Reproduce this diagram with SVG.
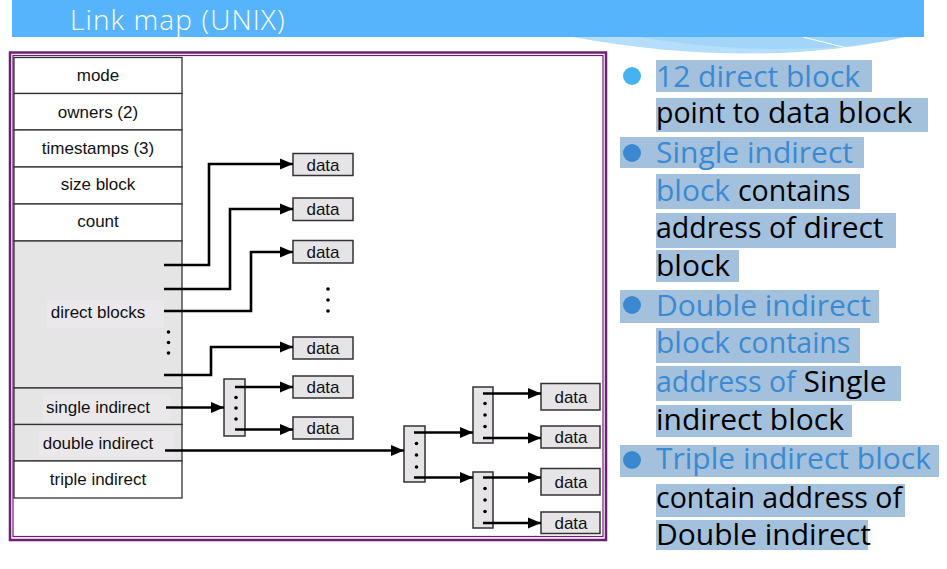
<svg xmlns="http://www.w3.org/2000/svg" width="947" height="569" viewBox="0 0 947 569">
<style>
.cell{fill:#ffffff;stroke:#333;stroke-width:1.3}
.gcell{fill:#e6e5e6;stroke:#333;stroke-width:1.3}
.lab{font-family:"Liberation Sans",Arial,sans-serif;font-size:17px;fill:#111;text-anchor:middle}
.box{fill:#e6e4e6;stroke:#333;stroke-width:1.5}
.conn{fill:none;stroke:#000;stroke-width:2.6}
.hl{fill:#a3c1dc}
.t{font-family:"Open Sans","Noto Sans",sans-serif;font-size:30px}
.b{fill:#3a8ad3}
.k{fill:#000}
.s{font-size:28.5px}
</style>
<defs>
<marker id="ah" markerUnits="userSpaceOnUse" markerWidth="14" markerHeight="12" refX="13" refY="6" orient="auto">
<path d="M0,0.5 L13,6 L0,11.5 Z" fill="#000"/>
</marker>
</defs>
<g id="header">
<path d="M573 37 C 680 57, 800 61, 905 37 Z" fill="#b4defb"/>
<path d="M640 37 C 720 51, 820 55, 905 37 Z" fill="#a2d5f9"/>
<path d="M803 37 L851 49" stroke="#fff" stroke-width="1"/>
<rect x="12" y="0" width="912" height="37" fill="#55b4fb"/>
<text x="70" y="30" font-family="Open Sans,Noto Sans,sans-serif" font-weight="300" font-size="28" letter-spacing="1.1" fill="#fff">Link map (UNIX)</text>
</g>
<g id="frame">
<rect x="10" y="52.5" width="596" height="487.5" fill="#fff" stroke="#6d1f73" stroke-width="2.5"/>
<rect x="13" y="55.5" width="590" height="481" fill="none" stroke="#6d1f73" stroke-width="1.2"/>
</g>
<g id="inode">
<rect class="cell" x="14" y="57.5" width="168" height="36"/>
<rect class="cell" x="14" y="93.5" width="168" height="36.5"/>
<rect class="cell" x="14" y="130" width="168" height="37"/>
<rect class="cell" x="14" y="167" width="168" height="37"/>
<rect class="cell" x="14" y="204" width="168" height="37"/>
<rect class="gcell" x="14" y="241" width="168" height="147"/>
<rect class="gcell" x="14" y="388" width="168" height="36.5"/>
<rect class="gcell" x="14" y="424.5" width="168" height="36.5"/>
<rect class="cell" x="14" y="461" width="168" height="37"/>
<rect x="47" y="300" width="117" height="28" fill="#ebe8eb"/>
<rect x="43" y="395" width="127" height="26" fill="#ebe8eb"/>
<rect x="39" y="431" width="135" height="26" fill="#ebe8eb"/>
<text class="lab" x="98" y="81">mode</text>
<text class="lab" x="98" y="118">owners (2)</text>
<text class="lab" x="98" y="154">timestamps (3)</text>
<text class="lab" x="98" y="190">size block</text>
<text class="lab" x="98" y="227">count</text>
<text class="lab" x="98" y="318">direct blocks</text>
<text class="lab" x="98" y="413">single indirect</text>
<text class="lab" x="98" y="449">double indirect</text>
<text class="lab" x="98" y="485">triple indirect</text>
<circle cx="168.5" cy="332" r="1.8"/>
<circle cx="168.5" cy="342.5" r="1.8"/>
<circle cx="168.5" cy="353" r="1.8"/>
</g>
<g id="data-direct">
<rect class="box" x="293" y="153.5" width="60" height="22"/>
<rect class="box" x="293" y="198" width="60" height="22.5"/>
<rect class="box" x="293" y="240.5" width="60" height="22.5"/>
<rect class="box" x="293" y="337" width="60" height="22"/>
<text class="lab" x="323" y="170.5">data</text>
<text class="lab" x="323" y="215">data</text>
<text class="lab" x="323" y="257.5">data</text>
<text class="lab" x="323" y="354">data</text>
<circle cx="328" cy="289" r="1.8"/>
<circle cx="328" cy="300" r="1.8"/>
<circle cx="328" cy="311" r="1.8"/>
</g>
<g id="single-indirect">
<rect class="box" x="224" y="379" width="21" height="57"/>
<circle cx="236" cy="397.5" r="1.8"/>
<circle cx="236" cy="408" r="1.8"/>
<circle cx="236" cy="419" r="1.8"/>
<rect class="box" x="293" y="376" width="60" height="22"/>
<rect class="box" x="293" y="417" width="60" height="22"/>
<text class="lab" x="323" y="393">data</text>
<text class="lab" x="323" y="434">data</text>
</g>
<g id="double-indirect">
<rect class="box" x="404" y="426" width="21" height="56"/>
<circle cx="416.5" cy="443.5" r="1.8"/>
<circle cx="416.5" cy="455" r="1.8"/>
<circle cx="416.5" cy="467" r="1.8"/>
<rect class="box" x="473" y="387" width="20" height="56"/>
<circle cx="485" cy="403.5" r="1.8"/>
<circle cx="485" cy="415" r="1.8"/>
<circle cx="485" cy="426.5" r="1.8"/>
<rect class="box" x="473" y="472" width="20" height="56"/>
<circle cx="485" cy="488.5" r="1.8"/>
<circle cx="485" cy="500" r="1.8"/>
<circle cx="485" cy="511.5" r="1.8"/>
<rect class="box" x="541" y="383.5" width="59" height="26.5"/>
<rect class="box" x="541" y="426" width="59" height="22"/>
<rect class="box" x="541" y="468.5" width="59" height="26.5"/>
<rect class="box" x="541" y="512" width="59" height="21.5"/>
<text class="lab" x="571" y="403">data</text>
<text class="lab" x="571" y="443">data</text>
<text class="lab" x="571" y="488">data</text>
<text class="lab" x="571" y="529">data</text>
</g>
<g id="connectors">
<path class="conn" d="M164 265 H209 V164 H293" marker-end="url(#ah)"/>
<path class="conn" d="M164 289 H230 V209 H293" marker-end="url(#ah)"/>
<path class="conn" d="M164 311 H251 V252 H293" marker-end="url(#ah)"/>
<path class="conn" d="M164 375 H211 V347 H293" marker-end="url(#ah)"/>
<path class="conn" d="M166 407.5 H224" marker-end="url(#ah)"/>
<path class="conn" d="M235 387 H293" marker-end="url(#ah)"/>
<path class="conn" d="M235 429.5 H293" marker-end="url(#ah)"/>
<path class="conn" d="M165 450.5 H404" marker-end="url(#ah)"/>
<path class="conn" d="M414 432.5 H473" marker-end="url(#ah)"/>
<path class="conn" d="M414 477.5 H473" marker-end="url(#ah)"/>
<path class="conn" d="M483 393.5 H541" marker-end="url(#ah)"/>
<path class="conn" d="M483 438 H541" marker-end="url(#ah)"/>
<path class="conn" d="M483 477.5 H541" marker-end="url(#ah)"/>
<path class="conn" d="M483 523 H541" marker-end="url(#ah)"/>
</g>
<g id="notes">
<rect class="hl" x="656" y="60" width="216" height="32"/>
<rect class="hl" x="656" y="98" width="272" height="34"/>
<rect class="hl" x="620" y="137" width="244" height="31"/>
<rect class="hl" x="656" y="174" width="204" height="35"/>
<rect class="hl" x="656" y="213" width="240" height="35"/>
<rect class="hl" x="656" y="250" width="83" height="32"/>
<rect class="hl" x="620" y="290" width="259" height="33"/>
<rect class="hl" x="656" y="328" width="204" height="35"/>
<rect class="hl" x="656" y="366" width="245" height="35"/>
<rect class="hl" x="656" y="405" width="196" height="32"/>
<rect class="hl" x="620" y="445" width="319" height="32"/>
<rect class="hl" x="656" y="484" width="249" height="33"/>
<rect class="hl" x="656" y="520" width="212" height="30"/>
<circle cx="632" cy="76" r="9" fill="#45b2f2"/>
<circle cx="632" cy="153" r="9" fill="#3b87d2"/>
<circle cx="632" cy="305" r="9" fill="#3b87d2"/>
<circle cx="632" cy="460" r="9" fill="#3b87d2"/>
<text class="t b" x="656" y="87">12 direct block</text>
<text class="t k" x="656" y="123"><tspan class="s">point to</tspan> data block</text>
<text class="t b" x="656" y="163">Single indirect</text>
<text class="t" x="656" y="201"><tspan class="b">block</tspan> <tspan class="k s">contains</tspan></text>
<text class="t k" x="656" y="238"><tspan class="s">address of</tspan> direct</text>
<text class="t k" x="656" y="276">block</text>
<text class="t b" x="656" y="316">Double indirect</text>
<text class="t b" x="656" y="353">block <tspan class="s">contains</tspan></text>
<text class="t" x="656" y="392"><tspan class="b s">address of</tspan> <tspan class="k">Single</tspan></text>
<text class="t k" x="656" y="430">indirect block</text>
<text class="t b" x="656" y="469">Triple indirect block</text>
<text class="t k s" x="656" y="508">contain address of</text>
<text class="t k" x="656" y="545">Double indirect</text>
</g>
</svg>
